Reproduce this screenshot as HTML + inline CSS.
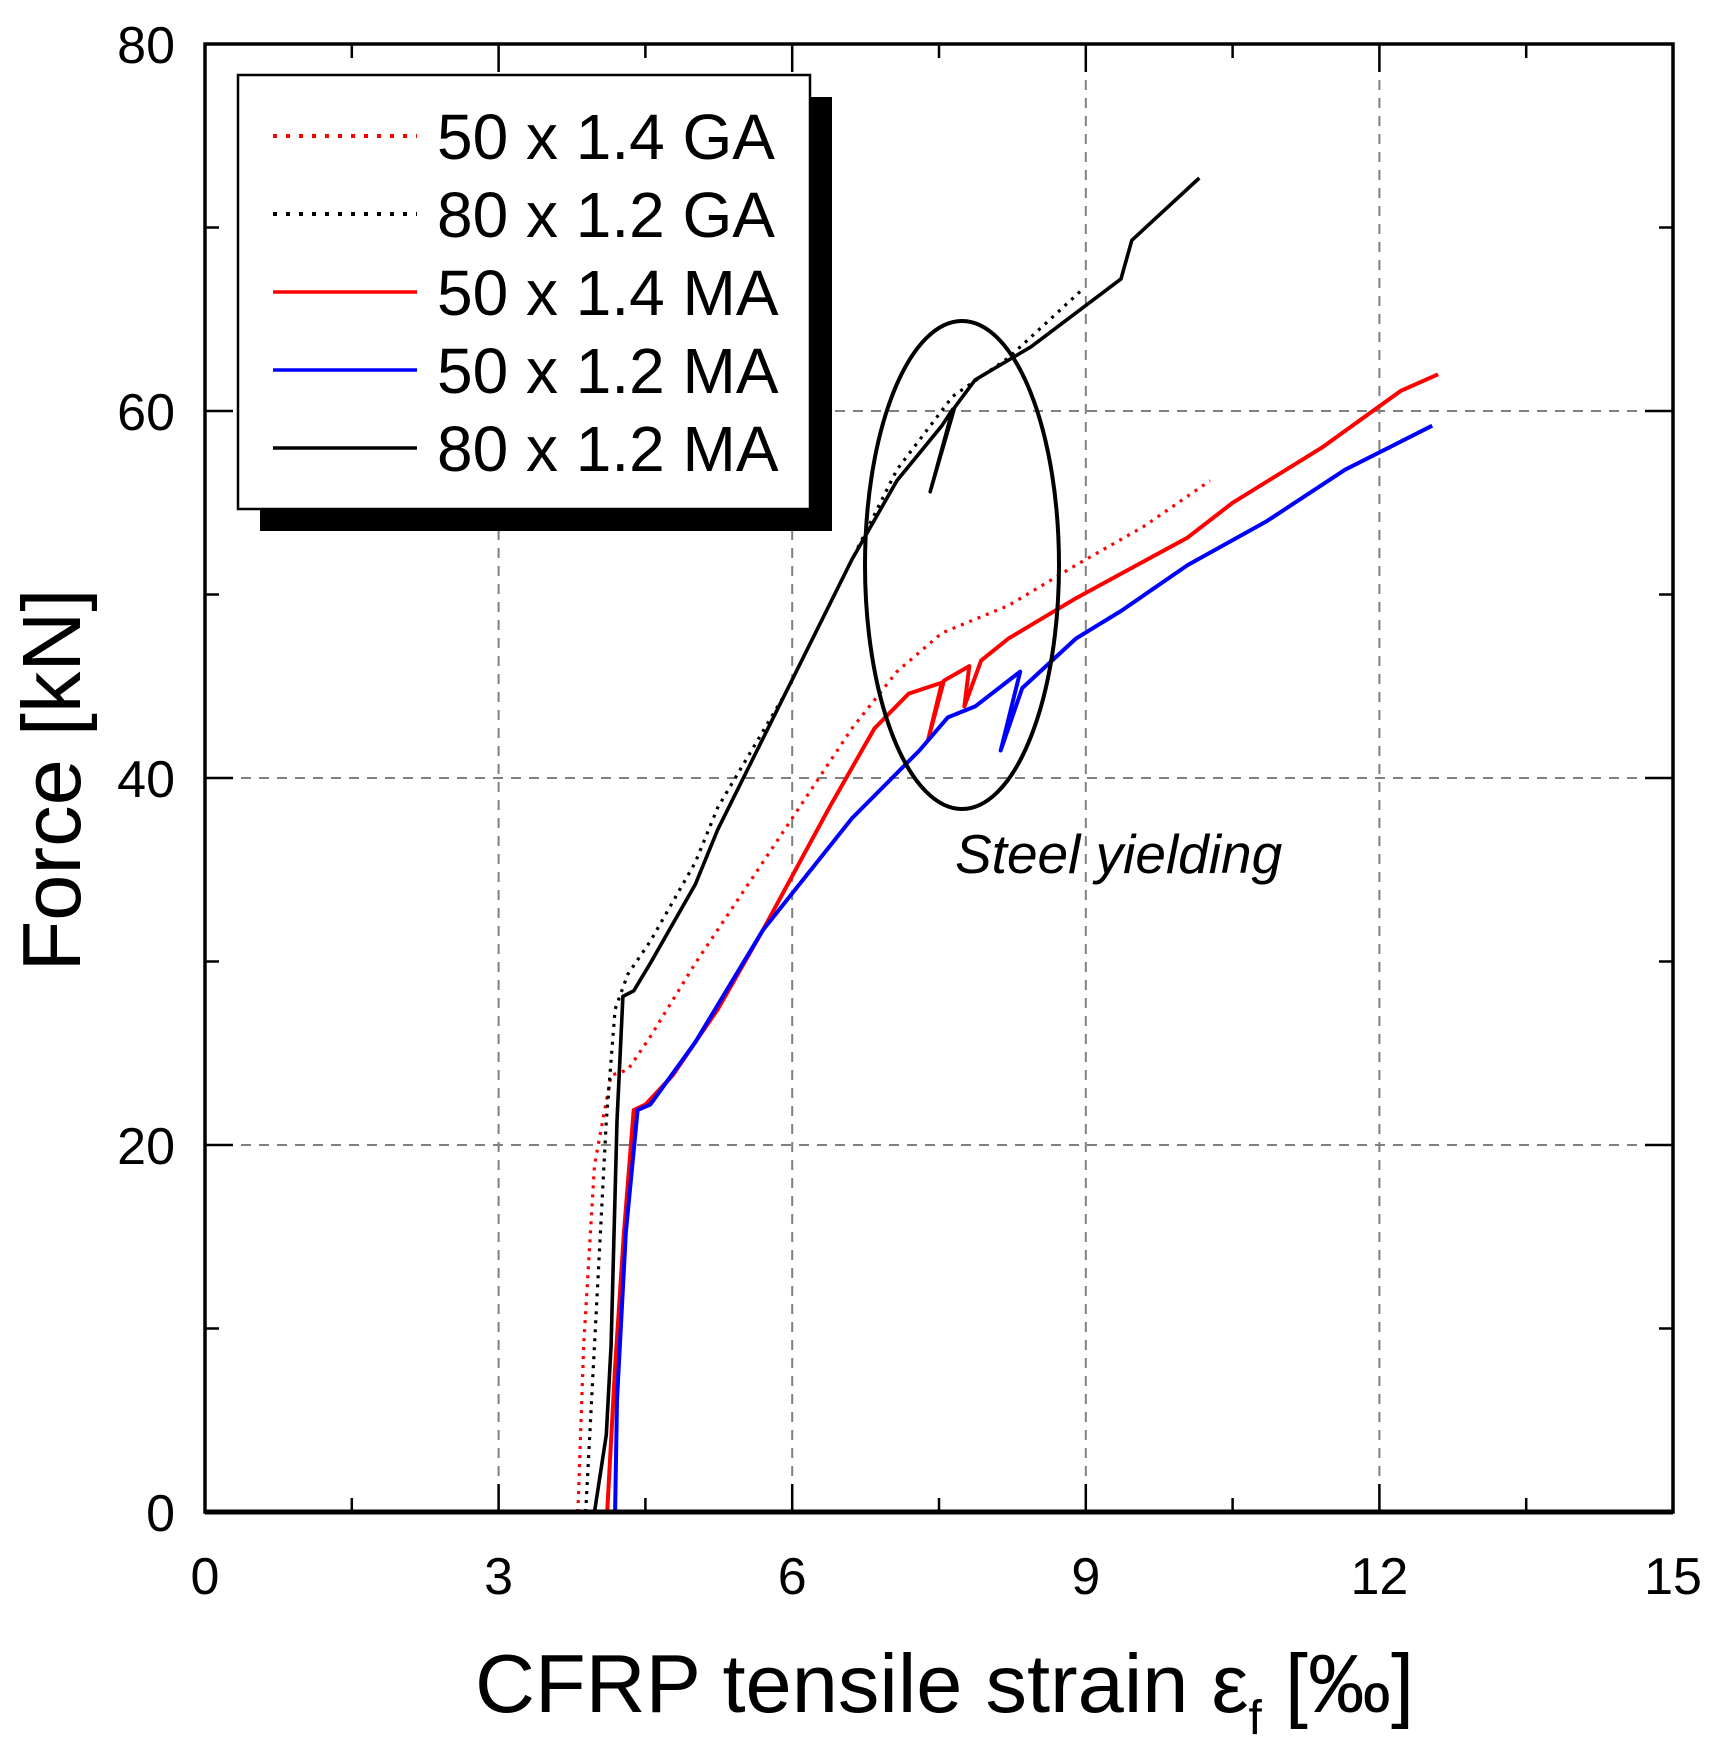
<!DOCTYPE html>
<html><head><meta charset="utf-8"><style>
html,body{margin:0;padding:0;background:#fff;}
svg{display:block;font-family:"Liberation Sans",Arial,sans-serif;}
</style></head><body>
<svg id="chart" width="1724" height="1757" viewBox="0 0 1724 1757">
<g id="grid"></g>
<g id="series"></g>
<rect x="205" y="44" width="1468" height="1468" fill="none" stroke="#000" stroke-width="3.5"/>
<line x1="205" x2="1673" y1="1512" y2="1512" stroke="#000" stroke-width="5"/>
<g id="ticks"></g>
<ellipse cx="962" cy="565" rx="97" ry="244" fill="none" stroke="#000" stroke-width="4"/>
<text x="955" y="873" font-size="55" font-style="italic">Steel yielding</text>
<g>
<rect x="260" y="97" width="572" height="434" fill="#000"/>
<rect x="238" y="75" width="572" height="434" fill="#fff" stroke="#000" stroke-width="2.5"/>
<g id="legend-items"></g>
</g>
<text x="475" y="1712" font-size="83">CFRP tensile strain ε<tspan font-size="48" dy="22">f</tspan><tspan dy="-22"> [‰]</tspan></text>
<text transform="translate(80,780) rotate(-90)" text-anchor="middle" font-size="83">Force [kN]</text>
</svg>
<script>
const xTicks=[0,3,6,9,12,15];
const yTicks=[0,20,40,60,80];
const seriesNames=["50 x 1.4 GA","80 x 1.2 GA","50 x 1.4 MA","50 x 1.2 MA","80 x 1.2 MA"];
const s1x=[3.81,3.87,3.98,4.15,4.32,4.55,5.01,5.70,6.61,7.07,7.53,8.21,8.90,9.59,10.27];
const s1y=[0,9.1,18.9,23.8,24.1,25.9,29.9,35.4,42.7,45.8,47.9,49.4,51.6,53.7,56.2];
const s2x=[3.89,3.98,4.10,4.19,4.32,4.55,5.01,5.24,5.93,6.61,7.07,7.64,8.21,8.96];
const s2y=[0,9.1,21.3,27.4,29.3,31.1,35.4,38.4,44.6,51.9,56.8,60.8,62.9,66.6];
const s3x=[4.11,4.19,4.28,4.38,4.50,4.78,5.24,5.70,6.38,6.84,7.19,7.53,7.39,7.55,7.81,7.76,7.93,8.21,8.90,10.04,10.50,11.41,12.22,12.60];
const s3y=[0,7.9,15.2,21.9,22.2,23.8,27.4,31.7,38.4,42.7,44.6,45.2,42.1,45.3,46.1,43.9,46.4,47.6,49.8,53.1,55.0,58.0,61.1,62.0];
const s4x=[4.19,4.21,4.30,4.42,4.55,5.01,5.70,6.61,7.30,7.59,7.87,8.33,8.13,8.35,8.90,9.36,10.04,10.85,11.65,12.54];
const s4y=[0,6.1,15.2,21.9,22.2,25.6,31.7,37.8,41.5,43.3,43.9,45.8,41.5,44.9,47.6,49.1,51.6,54.0,56.8,59.2];
const s5x=[3.98,4.10,4.15,4.21,4.27,4.38,4.55,5.01,5.24,5.93,6.61,7.07,7.53,7.64,7.41,7.66,7.87,8.44,9.36,9.47,10.16];
const s5y=[0,4.2,9.1,21.3,28.1,28.4,29.9,34.2,37.2,44.6,51.9,56.2,59.2,60.1,55.6,60.2,61.7,63.5,67.2,69.3,72.7];
const NS="http://www.w3.org/2000/svg";
const L=205,R=1673,T=44,B=1512;
const sx=v=>L+(v-0)/15*(R-L);
const sy=v=>B-(v-0)/80*(B-T);
function mk(tag,attrs,parent){const e=document.createElementNS(NS,tag);for(const k in attrs)e.setAttribute(k,attrs[k]);parent.appendChild(e);return e;}
const grid=document.getElementById('grid'),ticks=document.getElementById('ticks');
xTicks.forEach(t=>{
  if(t>0&&t<15){const g=mk('line',{x1:sx(t),x2:sx(t),y1:T,y2:B,stroke:'#808080','stroke-width':2,'stroke-dasharray':'10,8'},grid);
  
  }
  const tl=mk('text',{x:sx(t),y:1594,'font-size':52,'text-anchor':'middle'},ticks);tl.textContent=t;
  
  
});
for(let v=0;v<=15;v+=1.5){const maj=Math.abs(v/3-Math.round(v/3))<1e-6;const len=maj?28:14;
  mk('line',{x1:sx(v),x2:sx(v),y1:B,y2:B-len,stroke:'#000','stroke-width':2.5},ticks);
  mk('line',{x1:sx(v),x2:sx(v),y1:T,y2:T+len,stroke:'#000','stroke-width':2.5},ticks);}
yTicks.forEach(t=>{
  if(t>0&&t<80){const g=mk('line',{x1:L,x2:R,y1:sy(t),y2:sy(t),stroke:'#808080','stroke-width':2,'stroke-dasharray':'10,8'},grid);
  
  }
  const tl=mk('text',{x:175,y:sy(t)+19,'font-size':52,'text-anchor':'end'},ticks);tl.textContent=t;
  
  
});
for(let v=0;v<=80;v+=10){const maj=v%20===0;const len=maj?28:14;
  mk('line',{x1:L,x2:L+len,y1:sy(v),y2:sy(v),stroke:'#000','stroke-width':2.5},ticks);
  mk('line',{x1:R,x2:R-len,y1:sy(v),y2:sy(v),stroke:'#000','stroke-width':2.5},ticks);}
const styles=[{c:'#ff0000',d:'3,6',w:3.2},{c:'#000',d:'3,6',w:3.2},{c:'#ff0000',d:'',w:4},{c:'#0000ff',d:'',w:4},{c:'#000',d:'',w:3.6}];
const data=[[s1x,s1y],[s2x,s2y],[s3x,s3y],[s4x,s4y],[s5x,s5y]];
const sg=document.getElementById('series');
data.forEach((d,i)=>{
  const pts=d[0].map((x,j)=>sx(x).toFixed(1)+','+sy(d[1][j]).toFixed(1)).join(' ');
  const a={points:pts,fill:'none',stroke:styles[i].c,'stroke-width':styles[i].w,'stroke-linejoin':'round'};
  if(styles[i].d)a['stroke-dasharray']=styles[i].d;
  const p=mk('polyline',a,sg);
  
  
});
const li=document.getElementById('legend-items');
seriesNames.forEach((n,i)=>{
  const y=136+i*78;
  const a={x1:273,x2:417,y1:y,y2:y,stroke:styles[i].c,'stroke-width':styles[i].d?4:3.5};
  if(styles[i].d)a['stroke-dasharray']='4,9';
  const l=mk('line',a,li);
  
  
  const t=mk('text',{x:437,y:y+23,'font-size':64},li);t.textContent=n;
  
  
});
</script>
</body></html>
